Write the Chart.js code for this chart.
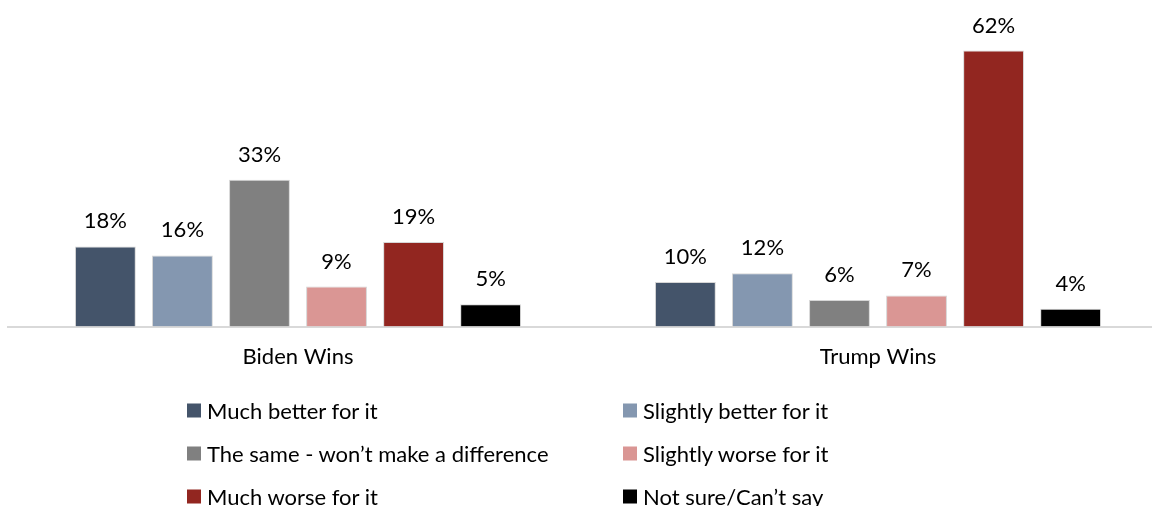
<!DOCTYPE html>
<html>
<head>
<meta charset="utf-8">
<script src="https://cdn.jsdelivr.net/npm/chart.js@4/dist/chart.umd.min.js"></script>
<style>
  html, body { margin: 0; padding: 0; background: #fff; overflow: hidden; width: 1152px; height: 506px; }
  #c { position: absolute; left: 0; top: 0; }
  #legend { position: absolute; left: 0; top: 0; width: 1152px; height: 506px; pointer-events: none;
            font-family: Lato, "Open Sans", sans-serif; font-size: 22px; color: #000; }
  .item { position: absolute; display: flex; align-items: center; white-space: nowrap; transform: translateY(-50%); }
  .box { width: 14px; height: 14px; margin-right: 6px; }
</style>
</head>
<body>
<canvas id="c" width="1176" height="379"></canvas>
<div id="legend"></div>
<script>
const categories = ['Biden Wins', 'Trump Wins'];
const seriesNames = [
  'Much better for it',
  'Slightly better for it',
  'The same - won\u2019t make a difference',
  'Slightly worse for it',
  'Much worse for it',
  'Not sure/Can\u2019t say'
];
const muchBetter = [18, 10];
const slightlyBetter = [16, 12];
const theSame = [33, 6];
const slightlyWorse = [9, 7];
const muchWorse = [19, 62];
const notSure = [5, 4];
const seriesColors = ['#44546A', '#8497B0', '#808080', '#DA9694', '#922620', '#000000'];

const seriesValues = [muchBetter, slightlyBetter, theSame, slightlyWorse, muchWorse, notSure];
const FONT = 'Lato, "Open Sans", sans-serif';

// value labels above each bar
const valueLabels = {
  id: 'valueLabels',
  afterDatasetsDraw(chart) {
    const ctx = chart.ctx;
    ctx.save();
    ctx.font = '22px ' + FONT;
    ctx.fillStyle = '#000';
    ctx.textAlign = 'center';
    ctx.textBaseline = 'alphabetic';
    chart.data.datasets.forEach((ds, i) => {
      chart.getDatasetMeta(i).data.forEach((bar, j) => {
        ctx.fillText(ds.data[j] + '%', bar.x, bar.y - 18);
      });
    });
    ctx.restore();
  }
};

const chart = new Chart(document.getElementById('c'), {
  type: 'bar',
  data: {
    labels: categories,
    datasets: seriesNames.map((name, i) => ({
      label: name,
      data: seriesValues[i],
      backgroundColor: seriesColors[i],
      borderColor: 'rgba(210,210,210,0.9)',
      borderWidth: 1,
      categoryPercentage: 0.797,
      barPercentage: 0.79
    }))
  },
  options: {
    responsive: false,
    animation: false,
    layout: { padding: { left: 8, right: 8, top: 15, bottom: 0 } },
    plugins: { legend: { display: false }, tooltip: { enabled: false } },
    scales: {
      x: {
        grid: { display: false },
        border: { display: true, color: '#D9D9D9', width: 2 },
        ticks: { color: '#000', font: { family: FONT, size: 22 }, padding: 9 }
      },
      y: { display: false, min: 0, max: 70 }
    }
  },
  plugins: [valueLabels]
});

// two-column legend below the plot
const legend = document.getElementById('legend');
const colX = [187, 623];
const rowY = [410, 453, 496];
chart.data.datasets.forEach((ds, i) => {
  const item = document.createElement('div');
  item.className = 'item';
  item.style.left = colX[i % 2] + 'px';
  item.style.top = rowY[Math.floor(i / 2)] + 'px';
  const box = document.createElement('span');
  box.className = 'box';
  box.style.background = ds.backgroundColor;
  const txt = document.createElement('span');
  txt.textContent = ds.label;
  item.appendChild(box);
  item.appendChild(txt);
  legend.appendChild(item);
});
</script>
</body>
</html>
